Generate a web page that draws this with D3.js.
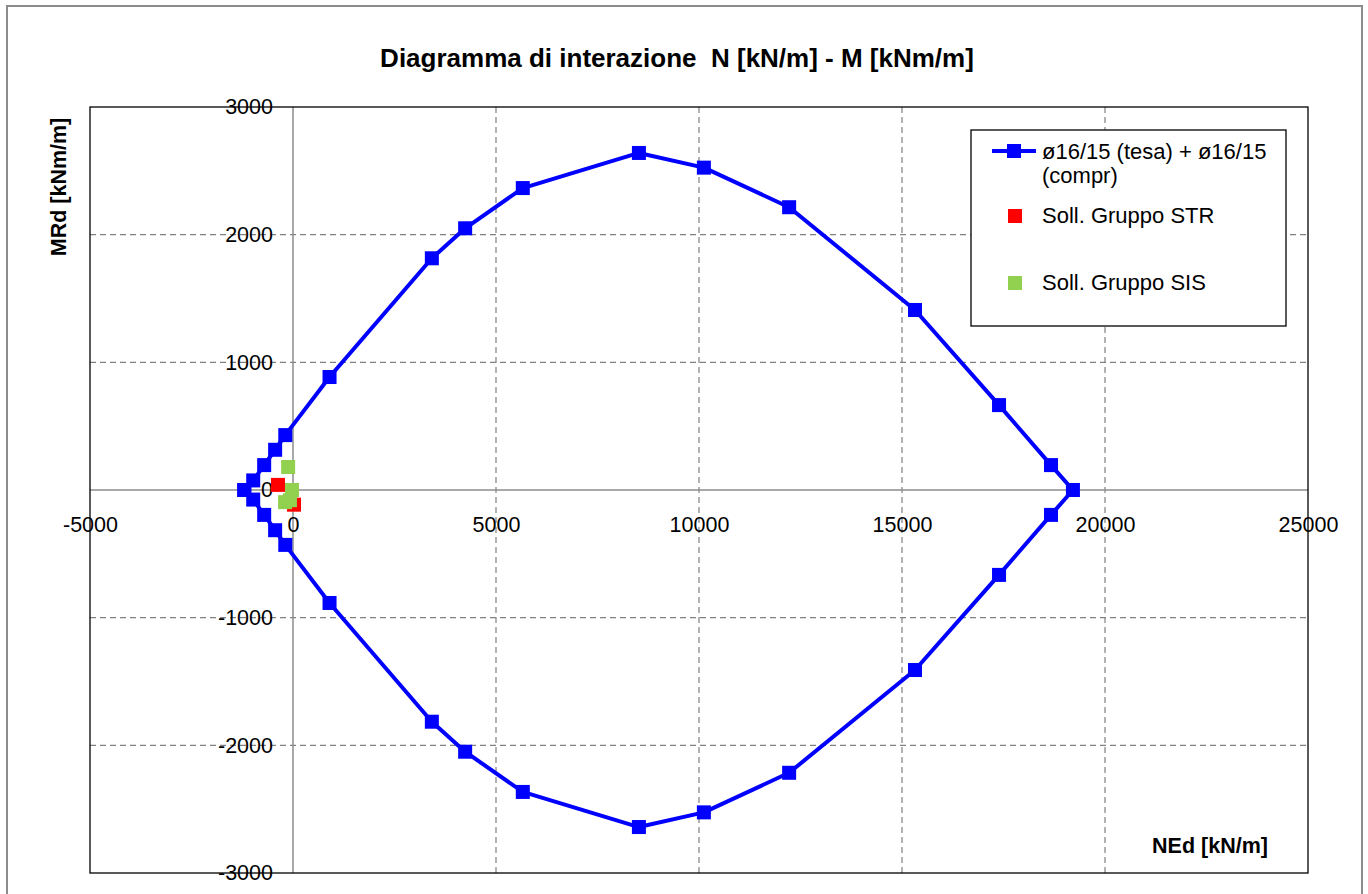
<!DOCTYPE html>
<html>
<head>
<meta charset="utf-8">
<script src="https://cdn.jsdelivr.net/npm/d3@7"></script>
<style>
  body { margin: 0; background: #fff; }
  svg text { font-family: "Liberation Sans", Arial, sans-serif; }
</style>
</head>
<body>
<div id="chart"></div>
<script>
// Interaction domain: N [kN/m] and M [kNm/m], closed polygon
const domainN = [-1200, -980, -710, -440, -190, 900, 3420, 4240, 5660, 8520, 10120, 12220, 15320, 17390, 18670, 19210,
                 18670, 17390, 15320, 12220, 10120, 8520, 5660, 4240, 3420, 900, -190, -440, -710, -980, -1200];
const domainM = [0, 75, 195, 315, 430, 885, 1815, 2050, 2365, 2640, 2525, 2215, 1410, 665, 195, 0,
                 -195, -665, -1410, -2215, -2525, -2640, -2365, -2050, -1815, -885, -430, -315, -195, -75, 0];

// Soll. Gruppo STR
const strN = [-370, 25];
const strM = [40, -115];
// Soll. Gruppo SIS
const sisN = [-120, -25, -195, -75];
const sisM = [180, 0, -95, -80];

const xTicks = [-5000, 0, 5000, 10000, 15000, 20000, 25000];
const yTicks = [-3000, -2000, -1000, 0, 1000, 2000, 3000];
const xGrid = [5000, 10000, 15000, 20000];
const yGrid = [-2000, -1000, 1000, 2000];

const legendLabels = ["ø16/15 (tesa) + ø16/15", "(compr)", "Soll. Gruppo STR", "Soll. Gruppo SIS"];

const width = 1368, height = 894;
const plot = { left: 90, right: 1308, top: 107, bottom: 873 };

const svg = d3.select("#chart").append("svg")
    .attr("width", width)
    .attr("height", height);

// outer chart border
svg.append("rect")
    .attr("x", 7).attr("y", 6)
    .attr("width", 1355).attr("height", 910)
    .attr("fill", "none")
    .attr("stroke", "#8c8c8c")
    .attr("stroke-width", 2);

const xScale = d3.scaleLinear().domain([-5000, 25000]).range([plot.left, plot.right]);
const yScale = d3.scaleLinear().domain([-3000, 3000]).range([plot.bottom, plot.top]);

// dashed grid
svg.append("g").selectAll("line")
    .data(xGrid).enter().append("line")
    .attr("x1", d => xScale(d)).attr("x2", d => xScale(d))
    .attr("y1", plot.top).attr("y2", plot.bottom)
    .attr("stroke", "#808080").attr("stroke-width", 1.2)
    .attr("stroke-dasharray", "6,4");
svg.append("g").selectAll("line")
    .data(yGrid).enter().append("line")
    .attr("y1", d => yScale(d)).attr("y2", d => yScale(d))
    .attr("x1", plot.left).attr("x2", plot.right)
    .attr("stroke", "#808080").attr("stroke-width", 1.2)
    .attr("stroke-dasharray", "6,4");

// zero axes
svg.append("line")
    .attr("x1", xScale(0)).attr("x2", xScale(0))
    .attr("y1", plot.top).attr("y2", plot.bottom)
    .attr("stroke", "#8c8c8c").attr("stroke-width", 1.5);
svg.append("line")
    .attr("x1", plot.left).attr("x2", plot.right)
    .attr("y1", yScale(0)).attr("y2", yScale(0))
    .attr("stroke", "#8c8c8c").attr("stroke-width", 1.5);

// plot frame
svg.append("rect")
    .attr("x", plot.left).attr("y", plot.top)
    .attr("width", plot.right - plot.left).attr("height", plot.bottom - plot.top)
    .attr("fill", "none").attr("stroke", "#000").attr("stroke-width", 1.3);

// axes tick labels (plain hyphen for negatives, as in the original)
const fmt = d => String(d);

const xAxis = svg.append("g")
    .attr("transform", `translate(0, ${yScale(0)})`)
    .call(d3.axisBottom(xScale).tickValues(xTicks).tickSize(0).tickPadding(27).tickFormat(fmt));
xAxis.select(".domain").remove();
xAxis.selectAll("text").style("font-size", "21.5px").attr("fill", "#000")
    .style("font-family", "'Liberation Sans', Arial, sans-serif");

const yAxis = svg.append("g")
    .attr("transform", `translate(${xScale(0)}, 0)`)
    .call(d3.axisLeft(yScale).tickValues(yTicks).tickSize(0).tickPadding(20).tickFormat(fmt));
yAxis.select(".domain").remove();
yAxis.selectAll("text").style("font-size", "21.5px").attr("fill", "#000")
    .style("font-family", "'Liberation Sans', Arial, sans-serif");

// interaction domain line
const line = d3.line()
    .x((d, i) => xScale(domainN[i]))
    .y(d => yScale(d));

svg.append("path")
    .datum(domainM)
    .attr("d", line)
    .attr("fill", "none")
    .attr("stroke", "#0000ff")
    .attr("stroke-width", 4)
    .attr("stroke-linejoin", "round");

const ms = 14;
svg.append("g").selectAll("rect")
    .data(domainM).enter().append("rect")
    .attr("x", (d, i) => xScale(domainN[i]) - ms / 2)
    .attr("y", d => yScale(d) - ms / 2)
    .attr("width", ms).attr("height", ms)
    .attr("fill", "#0000ff");

svg.append("g").selectAll("rect")
    .data(strM).enter().append("rect")
    .attr("x", (d, i) => xScale(strN[i]) - ms / 2)
    .attr("y", d => yScale(d) - ms / 2)
    .attr("width", ms).attr("height", ms)
    .attr("fill", "#ff0000");

svg.append("g").selectAll("rect")
    .data(sisM).enter().append("rect")
    .attr("x", (d, i) => xScale(sisN[i]) - ms / 2)
    .attr("y", d => yScale(d) - ms / 2)
    .attr("width", ms).attr("height", ms)
    .attr("fill", "#92d050");

// title
svg.append("text")
    .attr("x", 677).attr("y", 67)
    .attr("text-anchor", "middle")
    .style("font-size", "26px").style("font-weight", "bold")
    .attr("xml:space", "preserve")
    .text("Diagramma di interazione  N [kN/m] - M [kNm/m]");

// axis titles
svg.append("text")
    .attr("transform", "translate(66, 187) rotate(-90)")
    .attr("text-anchor", "middle")
    .style("font-size", "21.5px").style("font-weight", "bold")
    .text("MRd [kNm/m]");

svg.append("text")
    .attr("x", 1210).attr("y", 853)
    .attr("text-anchor", "middle")
    .style("font-size", "21.5px").style("font-weight", "bold")
    .text("NEd [kN/m]");

// legend
const legend = svg.append("g");
legend.append("rect")
    .attr("x", 971).attr("y", 130)
    .attr("width", 315).attr("height", 196)
    .attr("fill", "#fff").attr("stroke", "#000").attr("stroke-width", 1.3);

legend.append("line")
    .attr("x1", 992).attr("x2", 1036).attr("y1", 151).attr("y2", 151)
    .attr("stroke", "#0000ff").attr("stroke-width", 4);
legend.append("rect")
    .attr("x", 1014 - ms / 2).attr("y", 151 - ms / 2)
    .attr("width", ms).attr("height", ms).attr("fill", "#0000ff");
legend.append("rect")
    .attr("x", 1015 - ms / 2).attr("y", 216 - ms / 2)
    .attr("width", ms).attr("height", ms).attr("fill", "#ff0000");
legend.append("rect")
    .attr("x", 1015 - ms / 2).attr("y", 283 - ms / 2)
    .attr("width", ms).attr("height", ms).attr("fill", "#92d050");

const legendY = [159, 183, 223, 290];
legend.selectAll("text.leg")
    .data(legendLabels).enter().append("text")
    .attr("class", "leg")
    .attr("x", 1042)
    .attr("y", (d, i) => legendY[i])
    .style("font-size", "22px")
    .text(d => d);
</script>
</body>
</html>
